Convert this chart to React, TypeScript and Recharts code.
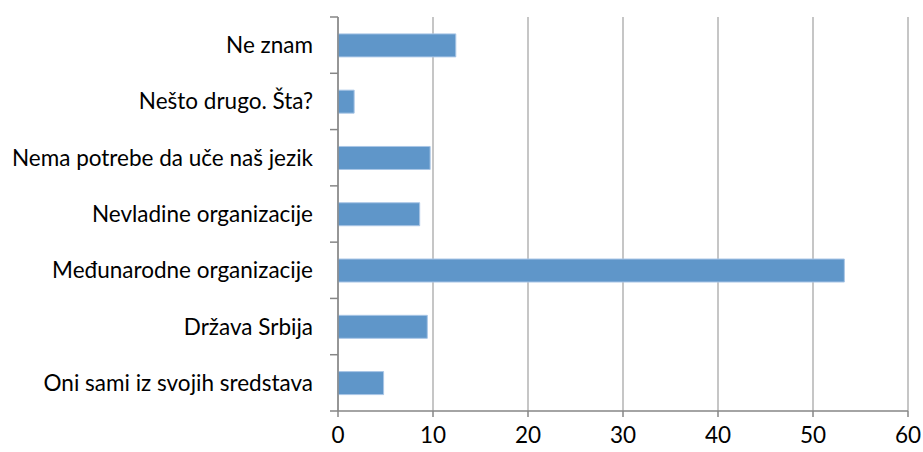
import React from "react";
import { BarChart, Bar, XAxis, YAxis, CartesianGrid } from "recharts";

const categories = [
  "Ne znam",
  "Nešto drugo. Šta?",
  "Nema potrebe da uče naš jezik",
  "Nevladine organizacije",
  "Međunarodne organizacije",
  "Država Srbija",
  "Oni sami iz svojih sredstava",
];
const values = [12.4, 1.7, 9.7, 8.6, 53.3, 9.4, 4.8];
const xTicks = [0, 10, 20, 30, 40, 50, 60];

const data = categories.map((name, i) => ({ name, value: values[i] }));

const W = 923;
const H = 452;
const M = { top: 17, right: 15, bottom: 11, left: 0 };
const Y_W = 338;
const X_H = 30;
const plotH = H - M.top - M.bottom - X_H;
const band = plotH / categories.length;
const FONT = "Lato, 'DejaVu Sans', sans-serif";
const FS = 22.5;
const AXIS = "#868686";

const YTick = (props: any) => {
  const { x, y, payload, index } = props;
  const half = band / 2;
  return (
    <g>
      <line x1={x} x2={x + 8} y1={y - half} y2={y - half} stroke={AXIS} strokeWidth={1.5} />
      {index === categories.length - 1 && (
        <line x1={x} x2={x + 8} y1={y + half} y2={y + half} stroke={AXIS} strokeWidth={1.5} />
      )}
      <text x={x - 17} y={y} dy={8} textAnchor="end" fontSize={FS} fill="#000" fontFamily={FONT}>
        {payload.value}
      </text>
    </g>
  );
};

export default function App() {
  return (
    <div style={{ position: "absolute", left: 0, top: 0, background: "#fff" }}>
      <BarChart width={W} height={H} data={data} layout="vertical" margin={M} barCategoryGap="30%">
        <CartesianGrid horizontal={false} stroke="#b3b3b3" strokeWidth={1.5} />
        <XAxis
          type="number"
          domain={[0, 60]}
          ticks={xTicks}
          height={X_H}
          stroke={AXIS}
          strokeWidth={1.5}
          tickSize={6}
          tick={{ fontSize: FS, fill: "#000", fontFamily: FONT, dy: 8 }}
          interval={0}
        />
        <YAxis
          type="category"
          dataKey="name"
          width={Y_W}
          stroke={AXIS}
          strokeWidth={1.5}
          tickLine={false}
          tick={<YTick />}
          interval={0}
        />
        <Bar dataKey="value" fill="#5F96C9" stroke="#A9C6E6" strokeWidth={1} isAnimationActive={false} />
      </BarChart>
    </div>
  );
}
